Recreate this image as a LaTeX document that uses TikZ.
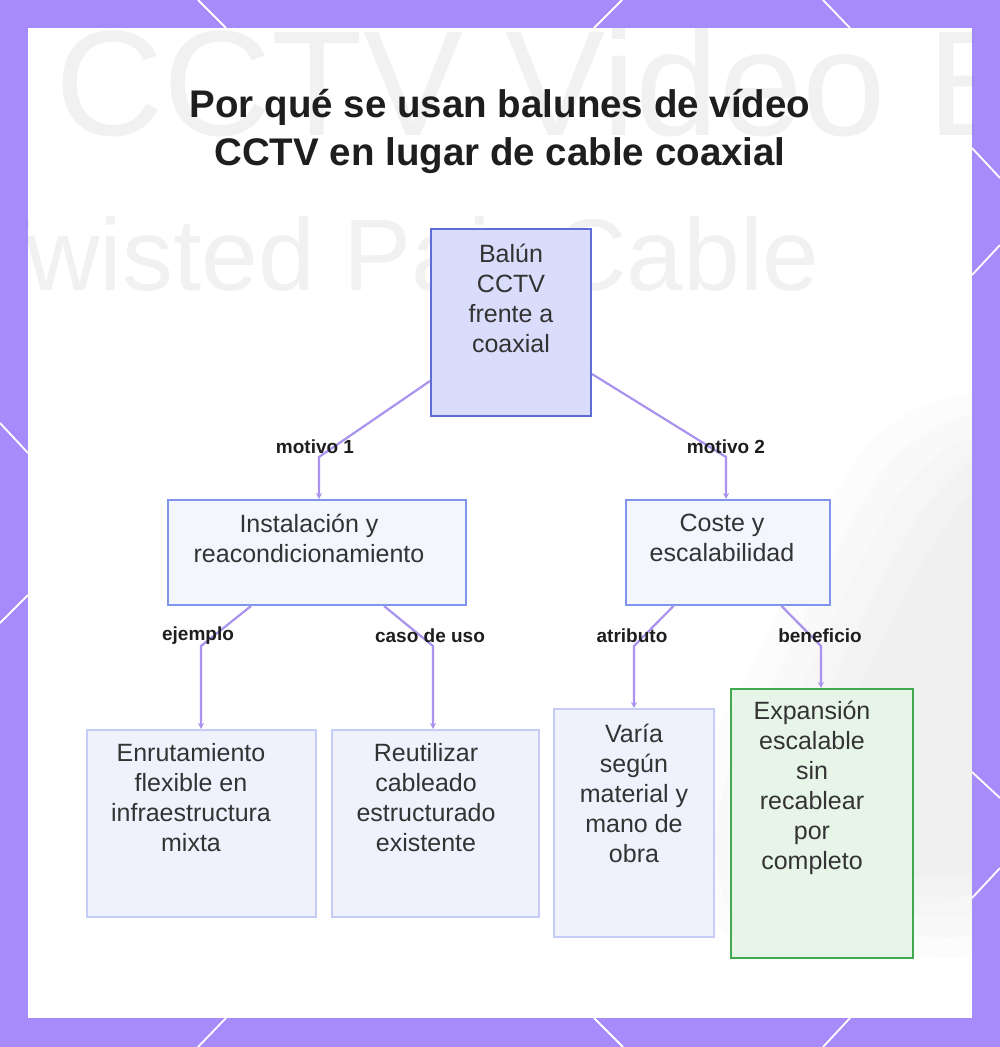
\documentclass[tikz,border=0pt]{standalone}
\usepackage{fontspec}
\setmainfont{Liberation Sans}
\usetikzlibrary{arrows.meta,calc}
\definecolor{framec}{HTML}{A78BFA}
\definecolor{edgec}{HTML}{A993EE}
\definecolor{rootfill}{HTML}{D9DCFB}
\definecolor{rootdraw}{HTML}{5E6DD6}
\definecolor{midfill}{HTML}{F4F6FE}
\definecolor{middraw}{HTML}{8194EC}
\definecolor{leaffill}{HTML}{EFF2FD}
\definecolor{leafdraw}{HTML}{C5CCF6}
\definecolor{gfill}{HTML}{E7F5E9}
\definecolor{gdraw}{HTML}{3FAA4E}
\definecolor{txtc}{HTML}{333333}
\definecolor{ttlc}{HTML}{1E1E1E}
\begin{document}
\begin{tikzpicture}[x=1pt,y=-1pt,
  box/.style={draw, line width=2pt, inner sep=0pt},
  rootbox/.style={box, fill=rootfill, draw=rootdraw},
  midbox/.style={box, fill=midfill, draw=middraw},
  leafbox/.style={box, fill=leaffill, draw=leafdraw},
  greenbox/.style={box, fill=gfill, draw=gdraw},
  txtnode/.style={text=txtc, font=\fontsize{25}{30}\selectfont, align=center, inner sep=0pt},
  lbl/.style={text=ttlc, font=\bfseries\fontsize{19}{22}\selectfont, inner sep=0pt},
  edge/.style={draw=edgec, line width=2.2pt, -{Stealth[length=6pt,width=6pt]}},
  fline/.style={white, line width=1.8pt},
  wmark/.style={text=black, text opacity=0.055, inner sep=0pt},
  haze/.style={fill=black, fill opacity=0.012, rounded corners=50pt}]
\useasboundingbox (0,0) rectangle (1000,1047);
% frame
\fill[framec] (0,0) rectangle (1000,1047);
\draw[fline] (198,0) -- (226,28);
\draw[fline] (622,0) -- (594,28);
\draw[fline] (823,0) -- (850,28);
\draw[fline] (226,1018) -- (198,1047);
\draw[fline] (594,1018) -- (623,1047);
\draw[fline] (850,1018) -- (823,1047);
\draw[fline] (0,423) -- (28,453);
\draw[fline] (28,595) -- (0,623);
\draw[fline] (972,148) -- (1000,178);
\draw[fline] (972,275) -- (1000,245);
\draw[fline] (972,772) -- (1000,798);
\draw[fline] (1000,868) -- (972,898);
\fill[white] (28,28) rectangle (972,1018);
% faint background
\begin{scope}
\clip (28,28) rectangle (972,1018);
\node[wmark, anchor=base west, font=\fontsize{150}{150}\selectfont] (wm1) at (55,135) {CCTV Video Balun};
\node[wmark, anchor=base east, font=\fontsize{102}{102}\selectfont] (wm2) at (820,290) {Twisted Pair Cable};
\foreach \s in {0,20,40,60,80} {
  \fill[haze] (1000,380+\s) -- (880+\s,420+\s) -- (820+\s,520+\s) -- (760+\s,650+\s) -- (700+\s,760+\s) -- (690+\s,880) -- (720+\s,950-\s) -- (1000,960-\s) -- cycle;
}
\end{scope}
% title
\node[text=ttlc, font=\bfseries\fontsize{38.5}{48}\selectfont, align=center, inner sep=0pt] (title) at (500,131) {Por qué se usan balunes de vídeo\\CCTV en lugar de cable coaxial};
% boxes
\node[rootbox, minimum width=160pt, minimum height=187pt] (root) at (511,322.5) {};
\node[midbox, minimum width=298pt, minimum height=105pt] (inst) at (317,552.5) {};
\node[midbox, minimum width=204pt, minimum height=105pt] (coste) at (727.5,552.5) {};
\node[leafbox, minimum width=229pt, minimum height=187pt] (enr) at (201,823.5) {};
\node[leafbox, minimum width=207pt, minimum height=187pt] (reut) at (435,823.5) {};
\node[leafbox, minimum width=160pt, minimum height=228pt] (varia) at (634,823) {};
\node[greenbox, minimum width=182pt, minimum height=269pt] (expa) at (822,823.5) {};
% texts
\node[txtnode] (roott) at (511,298) {Balún\\CCTV\\frente a\\coaxial};
\node[txtnode] (instt) at (309,538) {Instalación y\\reacondicionamiento};
\node[txtnode] (costet) at (722,538) {Coste y\\escalabilidad};
\node[txtnode] (enrt) at (191,798) {Enrutamiento\\flexible en\\infraestructura\\mixta};
\node[txtnode] (reutt) at (426,798) {Reutilizar\\cableado\\estructurado\\existente};
\node[txtnode] (variat) at (634,793) {Varía\\según\\material y\\mano de\\obra};
\node[txtnode] (expat) at (812,788) {Expansión\\escalable\\sin\\recablear\\por\\completo};
% bends
\coordinate (c1) at (319,457);
\coordinate (c2) at (726,457);
\coordinate (c3) at (201,646);
\coordinate (c4) at (433,646);
\coordinate (c5) at (634,646);
\coordinate (c6) at (821,646);
\draw[edge] ([yshift=36pt]root.south west) -- (c1) -- (c1 |- inst.north);
\draw[edge] ([yshift=43pt]root.south east) -- (c2) -- (c2 |- coste.north);
\draw[edge] ([xshift=84pt]inst.south west) -- (c3) -- (c3 |- enr.north);
\draw[edge] ([xshift=-83pt]inst.south east) -- (c4) -- (c4 |- reut.north);
\draw[edge] ([xshift=49pt]coste.south west) -- (c5) -- (c5 |- varia.north);
\draw[edge] ([xshift=-49pt]coste.south east) -- (c6) -- (c6 |- expa.north);
% labels
\node[lbl] (l1) at (315,447) {motivo 1};
\node[lbl] (l2) at (726,447) {motivo 2};
\node[lbl] (l3) at (198,636) {ejemplo};
\node[lbl] (l4) at (430,636) {caso de uso};
\node[lbl] (l5) at (632,636) {atributo};
\node[lbl] (l6) at (820,636) {beneficio};
\end{tikzpicture}
\end{document}
